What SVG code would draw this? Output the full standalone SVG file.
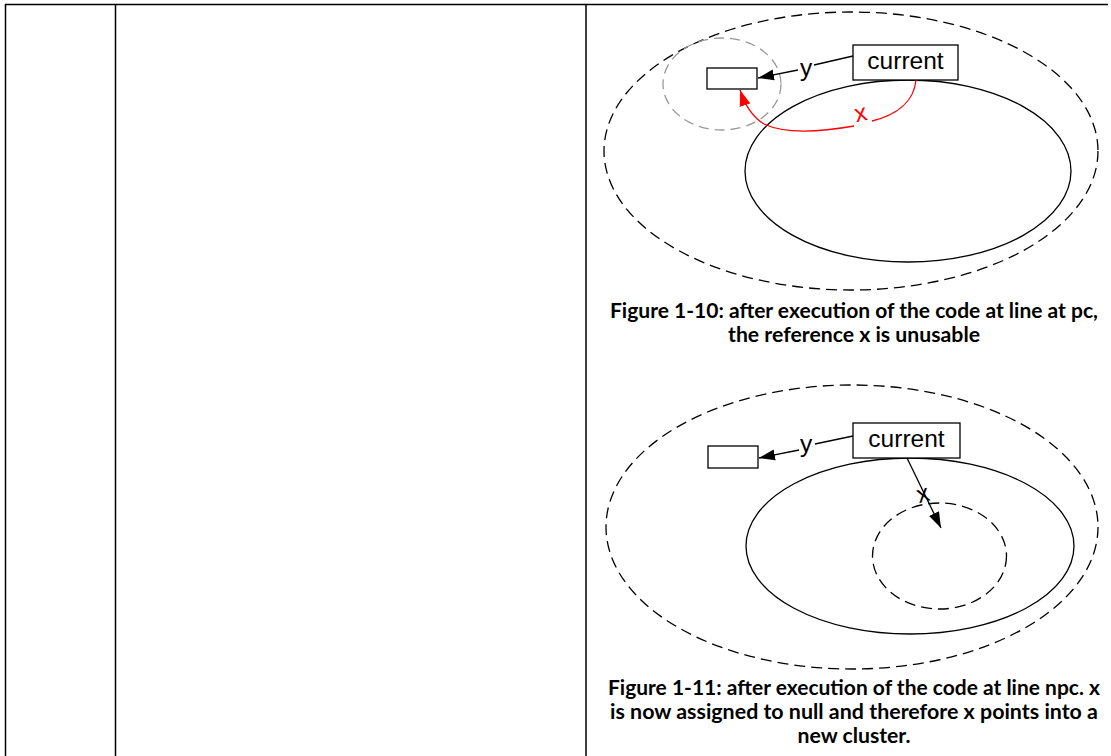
<svg xmlns="http://www.w3.org/2000/svg" width="1111" height="756" viewBox="0 0 1111 756">
  <style>
    .grid { stroke: #000; stroke-width: 1.5; fill: none; }
    .cluster { fill: none; stroke: #000; stroke-width: 1.3; stroke-dasharray: 11 6; }
    .cluster-grey { fill: none; stroke: #999; stroke-width: 1.3; stroke-dasharray: 10 6; }
    .heap { fill: none; stroke: #000; stroke-width: 1.3; }
    .box { fill: #fff; stroke: #000; stroke-width: 1.3; }
    .edge { fill: none; stroke: #000; stroke-width: 1.3; }
    .edge-red { fill: none; stroke: #f00; stroke-width: 1.3; }
    .lbl { font-family: "Liberation Sans", Arial, sans-serif; font-size: 24.5px; fill: #000; text-anchor: middle; }
    .lbl-red { fill: #f00; }
    .cap { font-family: Lato, "Liberation Sans", sans-serif; font-weight: bold; font-size: 20px; fill: #000; text-anchor: middle; }
  </style>
  <defs>
    <marker id="ah" markerUnits="userSpaceOnUse" markerWidth="17" markerHeight="12" refX="16" refY="6" orient="auto">
      <path d="M0,0.5 L16,6 L0,11.5 z" fill="#000"/>
    </marker>
    <marker id="ah-red" markerUnits="userSpaceOnUse" markerWidth="17" markerHeight="12" refX="16" refY="6" orient="auto">
      <path d="M0,0.5 L16,6 L0,11.5 z" fill="#f00"/>
    </marker>
  </defs>

  <rect width="1111" height="756" fill="#fff"/>

  <!-- table rules -->
  <g id="table">
    <line class="grid" x1="5" y1="4.5" x2="1108" y2="4.5"/>
    <line class="grid" x1="5.5" y1="4" x2="5.5" y2="756"/>
    <line class="grid" x1="115.5" y1="4" x2="115.5" y2="756"/>
    <line class="grid" x1="586" y1="4" x2="586" y2="756"/>
  </g>

  <!-- Figure 1-10 -->
  <g id="fig10-outer"><ellipse class="cluster" cx="851" cy="151" rx="247" ry="139"/></g>
  <g id="fig10-old"><ellipse class="cluster-grey" cx="722" cy="84" rx="59" ry="46"/></g>
  <g id="fig10-heap"><ellipse class="heap" cx="908" cy="171" rx="163" ry="91"/></g>
  <g id="fig10-target"><rect class="box" x="707" y="68" width="50" height="21"/></g>
  <g id="fig10-current">
    <rect class="box" x="853" y="45" width="105" height="35"/>
    <text class="lbl" x="905.5" y="69">current</text>
  </g>
  <g id="fig10-edges">
    <path class="edge" d="M853,56 L814,65"/>
    <path class="edge" d="M798,70 L758,78" marker-end="url(#ah)"/>
    <text class="lbl" x="806" y="76">y</text>
    <path class="edge-red" d="M916,80 C914,102 896,115 872,121"/>
    <path class="edge-red" d="M854,126 C820,132 785,134 764,124 C754,118 746,108 740,90" marker-end="url(#ah-red)"/>
    <text class="lbl lbl-red" x="861" y="121" transform="rotate(-12 861 115)">x</text>
  </g>
  <g id="fig10-caption">
    <text class="cap" x="854" y="318" textLength="488" lengthAdjust="spacingAndGlyphs">Figure 1-10: after execution of the code at line at pc,</text>
    <text class="cap" x="854" y="342" textLength="252" lengthAdjust="spacingAndGlyphs">the reference x is unusable</text>
  </g>

  <!-- Figure 1-11 -->
  <g id="fig11-outer"><ellipse class="cluster" cx="852" cy="527" rx="246" ry="142"/></g>
  <g id="fig11-heap"><ellipse class="heap" cx="910" cy="546" rx="164" ry="88"/></g>
  <g id="fig11-new"><ellipse class="cluster" cx="939.5" cy="556" rx="67" ry="53"/></g>
  <g id="fig11-target"><rect class="box" x="708" y="446" width="50" height="22"/></g>
  <g id="fig11-current">
    <rect class="box" x="853" y="423" width="107" height="35"/>
    <text class="lbl" x="906.5" y="447">current</text>
  </g>
  <g id="fig11-edges">
    <path class="edge" d="M853,436 L815,444"/>
    <path class="edge" d="M799,450 L759,458" marker-end="url(#ah)"/>
    <text class="lbl" x="806" y="452">y</text>
    <path class="edge" d="M907,458 L941,528" marker-end="url(#ah)"/>
    <text class="lbl" x="923" y="502" transform="rotate(-15 923 495)">x</text>
  </g>
  <g id="fig11-caption">
    <text class="cap" x="854" y="695" textLength="492" lengthAdjust="spacingAndGlyphs">Figure 1-11: after execution of the code at line npc. x</text>
    <text class="cap" x="854" y="719" textLength="488" lengthAdjust="spacingAndGlyphs">is now assigned to null and therefore x points into a</text>
    <text class="cap" x="854" y="743" textLength="113" lengthAdjust="spacingAndGlyphs">new cluster.</text>
  </g>
</svg>
